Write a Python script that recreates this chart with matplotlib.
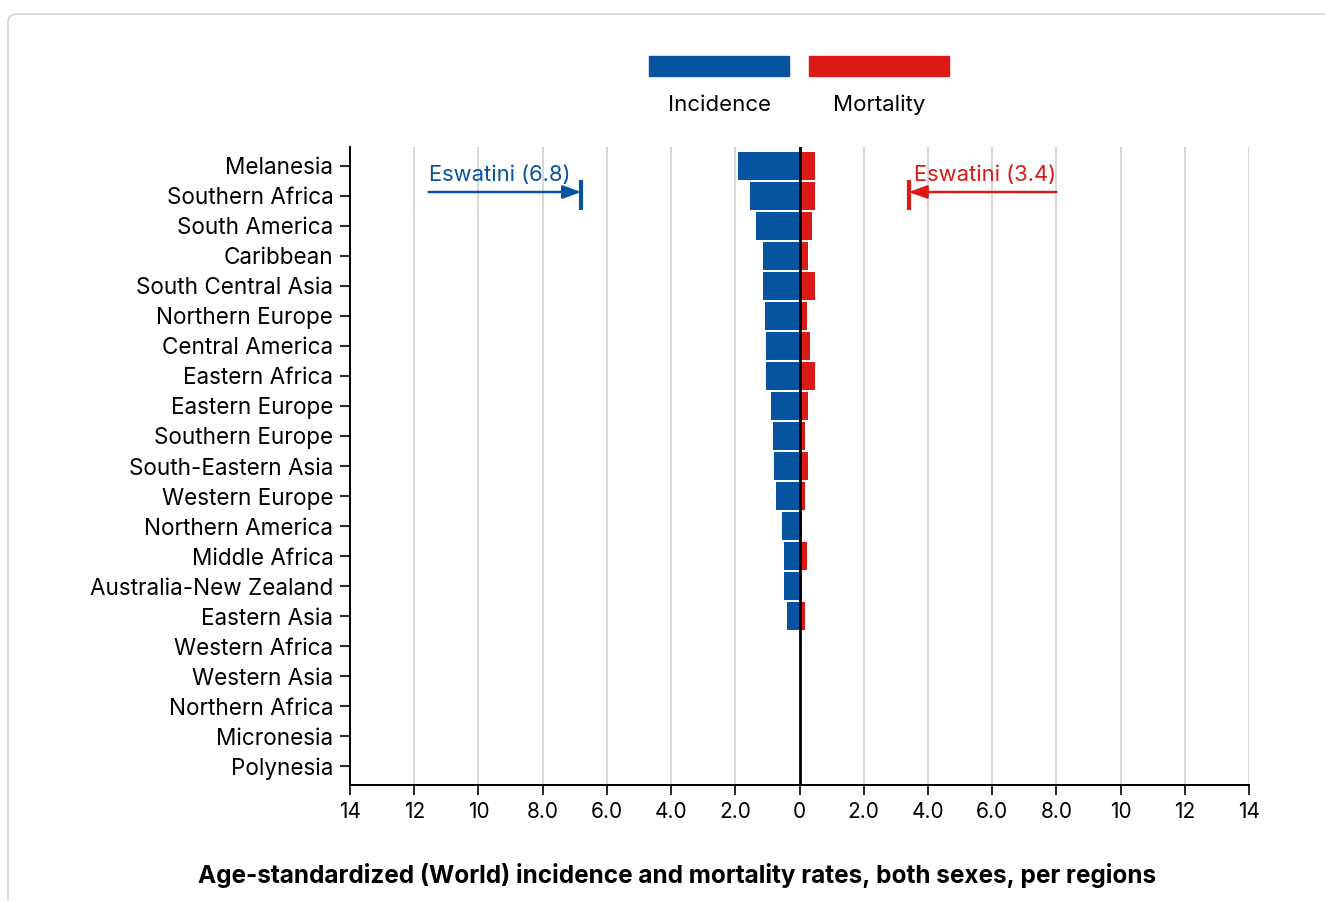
#!/usr/bin/env python3

# Butterfly chart of incidence and mortality rates per region.

import matplotlib
matplotlib.use("Agg")
import matplotlib.pyplot as plt
from matplotlib.patches import FancyBboxPatch

plt.rcParams['font.family'] = ['Inter', 'DejaVu Sans']

# Regions, top to bottom.
regions = ['Melanesia', 'Southern Africa', 'South America', 'Caribbean',
           'South Central Asia', 'Northern Europe', 'Central America',
           'Eastern Africa', 'Eastern Europe', 'Southern Europe',
           'South-Eastern Asia', 'Western Europe', 'Northern America',
           'Middle Africa', 'Australia-New Zealand', 'Eastern Asia',
           'Western Africa', 'Western Asia', 'Northern Africa',
           'Micronesia', 'Polynesia']

# Age-standardized rates.
incidence = [1.9, 1.53, 1.34, 1.15, 1.15, 1.09, 1.03, 1.03, 0.9, 0.84,
             0.78, 0.72, 0.53, 0.47, 0.47, 0.4, 0, 0, 0, 0, 0]
mortality = [0.47, 0.47, 0.4, 0.28, 0.47, 0.22, 0.34, 0.47, 0.28, 0.16,
             0.28, 0.16, 0.09, 0.22, 0.09, 0.16, 0, 0, 0, 0, 0]

# Out-of-range values shown as arrows.
inc_max_label = 'Eswatini (6.8)'
inc_max = 6.8
mort_max_label = 'Eswatini (3.4)'
mort_max = 3.4

# Axis ticks.
xticks = [-14, -12, -10, -8, -6, -4, -2, 0, 2, 4, 6, 8, 10, 12, 14]
xtick_labels = ['14', '12', '10', '8.0', '6.0', '4.0', '2.0', '0',
                '2.0', '4.0', '6.0', '8.0', '10', '12', '14']

blue = '#0654a0'
red = '#db1a17'

fig = plt.figure(figsize=(13.25, 9.01), dpi=100)

# Card border.
card = FancyBboxPatch((8 / 1325, -0.05), 1.2, 1 - 14 / 901 + 0.05,
                      boxstyle='round,pad=0,rounding_size=0.008',
                      transform=fig.transFigure, facecolor='none',
                      edgecolor='#d5d5d5', linewidth=1.2, zorder=-1)
fig.patches.append(card)

ax = fig.add_axes([350 / 1325, (901 - 785) / 901, 899 / 1325, 638 / 901])
ax.set_facecolor('none')

y = list(range(len(regions)))
ax.barh(y, [-v for v in incidence], height=0.95, color=blue, zorder=3)
ax.barh(y, mortality, height=0.95, color=red, zorder=3)

ax.set_xlim(-14, 14)
ax.set_ylim(len(regions) - 1 + 0.63, -0.63)

ax.set_xticks(xticks)
ax.set_xticklabels(xtick_labels, fontsize=15)
ax.set_yticks(y)
ax.set_yticklabels(regions, fontsize=16.2)
ax.tick_params(axis='both', length=7, width=1.2, color='black', pad=5)

for x in xticks:
    ax.axvline(x, color='#d0d0d0', linewidth=1.2, zorder=1)
ax.axvline(0, color='black', linewidth=2, zorder=4)

for side in ['top', 'right']:
    ax.spines[side].set_visible(False)
for side in ['left', 'bottom']:
    ax.spines[side].set_linewidth(1.4)

# Incidence arrow.
ax.annotate('', xy=(-inc_max, 0.87), xytext=(-11.55, 0.87),
            arrowprops=dict(arrowstyle='-|>,head_length=1.1,head_width=0.4',
                            color=blue, lw=1.8, shrinkA=0, shrinkB=0), zorder=5)
ax.plot([-inc_max, -inc_max], [0.55, 1.4], color=blue, lw=3, zorder=5)
ax.text(-11.55, 0.62, inc_max_label, color=blue, fontsize=15.8, va='bottom', ha='left')

# Mortality arrow.
ax.annotate('', xy=(mort_max, 0.87), xytext=(8.0, 0.87),
            arrowprops=dict(arrowstyle='-|>,head_length=1.1,head_width=0.4',
                            color=red, lw=1.8, shrinkA=0, shrinkB=0), zorder=5)
ax.plot([mort_max, mort_max], [0.55, 1.4], color=red, lw=3, zorder=5)
ax.text(8.0, 0.62, mort_max_label, color=red, fontsize=15.8, va='bottom', ha='right')

# Legend.
fig.patches.append(plt.Rectangle((649 / 1325, 1 - 76 / 901), 140 / 1325, 20 / 901,
                                 transform=fig.transFigure, color=blue))
fig.patches.append(plt.Rectangle((809 / 1325, 1 - 76 / 901), 140 / 1325, 20 / 901,
                                 transform=fig.transFigure, color=red))
fig.text(719 / 1325, 1 - 105 / 901, 'Incidence', ha='center', va='center', fontsize=16)
fig.text(879 / 1325, 1 - 105 / 901, 'Mortality', ha='center', va='center', fontsize=16)

# Title at the bottom.
fig.text(677 / 1325, 1 - 876 / 901,
         'Age-standardized (World) incidence and mortality rates, both sexes, per regions',
         ha='center', va='center', fontsize=17.5, fontweight='bold')

fig.savefig('out.png', dpi=100)
plt.close(fig)
